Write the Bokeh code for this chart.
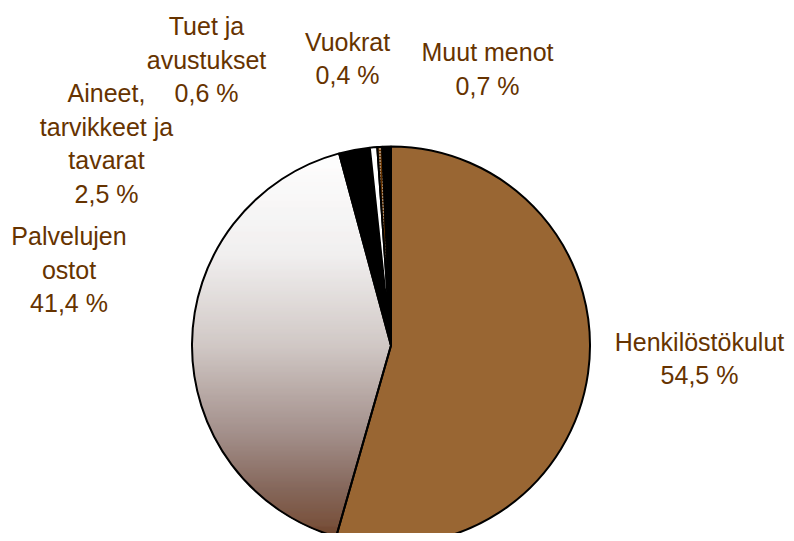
import math
from bokeh.plotting import figure
from bokeh.models import Range1d, ColumnDataSource
from bokeh.core.properties import value
from bokeh.embed import file_html
from bokeh.resources import INLINE

# ---- data ----
categories = ["Henkilöstökulut", "Palvelujen\nostot", "Aineet,\ntarvikkeet ja\ntavarat",
              "Tuet ja\navustukset", "Vuokrat", "Muut menot"]
shares = [54.5, 41.4, 2.5, 0.6, 0.4, 0.7]
slice_colors = ["#996633", None, "#000000", "#ffffff", "#663300", "#000000"]
slice_hatch = ["", "", "", "", ".", ""]

# ---- layout (positions / styles) ----
W, H = 786, 533
CX, CY, R = 390.5, 188.0, 199.0
label_pos = [(699, 175), (68.5, 264), (106, 390), (206, 474), (347, 475), (487, 464.5)]
LINE_STEP = 33.5
TEXT_COLOR = "#663300"
# gradient stops for "Palvelujen ostot" (fraction from top of pie to bottom)
grad_stops = [(0.00, (255, 255, 255)), (0.27, (240, 238, 238)), (0.50, (205, 196, 193)),
              (0.72, (157, 136, 131)), (0.86, (125, 93, 80)), (1.00, (105, 58, 30))]

total = sum(shares)
starts, ends = [], []
a = math.pi / 2
for s in shares:
    da = 2 * math.pi * s / total
    starts.append(a)
    ends.append(a - da)
    a -= da

p = figure(width=W, height=H, output_backend="svg", toolbar_location=None,
           x_range=Range1d(0, W), y_range=Range1d(0, H), min_border=0)
p.axis.visible = False
p.grid.visible = False
p.outline_line_color = None
p.background_fill_color = "white"
p.border_fill_color = "white"


def grad_color(t):
    t = min(max(t, 0.0), 1.0)
    for (t0, c0), (t1, c1) in zip(grad_stops[:-1], grad_stops[1:]):
        if t <= t1:
            f = (t - t0) / (t1 - t0) if t1 > t0 else 0
            c = [round(c0[k] + (c1[k] - c0[k]) * f) for k in range(3)]
            return "#%02x%02x%02x" % tuple(c)
    return "#%02x%02x%02x" % grad_stops[-1][1]


# gradient-filled slice (index 1): horizontal bands clipped to the slice polygon
gi = 1
a_hi, a_lo = starts[gi], ends[gi]
n_arc = 300
poly = [(CX, CY)]
for k in range(n_arc + 1):
    ang = a_hi + (a_lo - a_hi) * k / n_arc
    poly.append((CX + R * math.cos(ang), CY + R * math.sin(ang)))
lefts, rights, bots, tops, cols = [], [], [], [], []
y = CY - R
step = 1.0
while y < CY + R:
    ym = y + step / 2
    xs = []
    for (x1, y1), (x2, y2) in zip(poly, poly[1:] + poly[:1]):
        if (y1 - ym) * (y2 - ym) <= 0 and y1 != y2:
            xs.append(x1 + (ym - y1) * (x2 - x1) / (y2 - y1))
    if len(xs) >= 2:
        lefts.append(min(xs) - 0.3)
        rights.append(max(xs) + 0.3)
        bots.append(y - 0.3)
        tops.append(y + step + 0.3)
        cols.append(grad_color((CY + R - ym) / (2 * R)))
    y += step
p.quad(left=lefts, right=rights, bottom=bots, top=tops, fill_color=cols, line_color=None)

# slices
src = ColumnDataSource(dict(
    start=[e for e in ends], end=[s for s in starts],
    fill=[c if c else "#ffffff" for c in slice_colors],
    alpha=[0.0 if c is None else 1.0 for c in slice_colors],
    hatch=slice_hatch,
))
p.wedge(x=CX, y=CY, radius=R, start_angle="start", end_angle="end",
        fill_color="fill", fill_alpha="alpha", hatch_pattern="hatch",
        hatch_color="white", hatch_scale=3, hatch_weight=1.2,
        line_color="black", line_width=2, source=src)

# labels: one text per line, stacked around the label's centre
lx, ly, lt = [], [], []
for (px, py), c, s in zip(label_pos, categories, shares):
    lines = f"{c}\n{s:.1f} %".replace(".", ",").split("\n")
    n = len(lines)
    for i, ln in enumerate(lines):
        lx.append(px)
        ly.append(py + ((n - 1) / 2 - i) * LINE_STEP)
        lt.append(ln)
p.text(x=lx, y=ly, text=lt,
       text_font=value("Liberation Sans"), text_font_size="25px",
       text_color=TEXT_COLOR, text_align="center", text_baseline="middle")

open("out.html", "w").write(file_html(p, INLINE))
